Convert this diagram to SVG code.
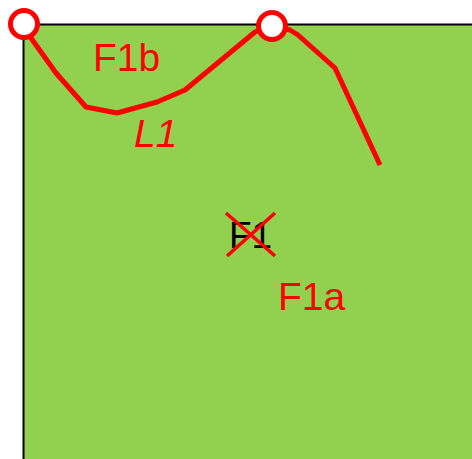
<svg xmlns="http://www.w3.org/2000/svg" width="472" height="459" viewBox="0 0 472 459">
<style>
.lbl{font-family:"Liberation Sans",Arial,sans-serif;font-size:39px;fill:#FF0000}
.blk{font-family:"Liberation Sans",Arial,sans-serif;font-size:37px;fill:#000}
.red{stroke:#FF0000;fill:none;stroke-width:5;stroke-linejoin:round}
.pt{stroke:#FF0000;stroke-width:5;fill:#FFFFFF}
</style>
<rect width="472" height="459" fill="#FFFFFF"/>
<g id="F1">
<rect x="23.5" y="24.5" width="460" height="450" fill="#92D050" stroke="#000" stroke-width="2"/>
<text class="blk" x="229" y="248">F1</text>
<line x1="226" y1="213" x2="275" y2="256" stroke="#FF0000" stroke-width="3.5"/>
<line x1="275" y1="213" x2="227" y2="256" stroke="#FF0000" stroke-width="3.5"/>
</g>
<g id="connectors">
<polyline class="red" points="24,24 31,38 56,73 86,107 117,113 157,102 185,90 255,32 272,25 290,30 298,35 335,68 380,165"/>
</g>
<g id="P1"><circle class="pt" cx="24" cy="24" r="13.5"/></g>
<g id="P2"><circle class="pt" cx="272" cy="26" r="13.5"/></g>
<g id="labels">
<text class="lbl" x="93" y="71">F1b</text>
<text class="lbl" x="134" y="147" font-style="italic">L1</text>
<text class="lbl" x="278" y="310">F1a</text>
</g>
</svg>
